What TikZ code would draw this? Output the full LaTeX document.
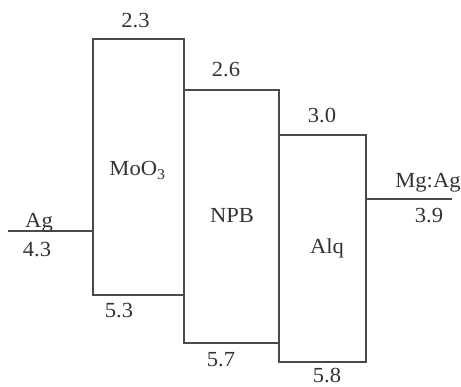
\documentclass[tikz,border=0pt]{standalone}
\usepackage{fontspec}
\setmainfont{Liberation Serif}[FakeStretch=1.05]
\begin{document}
\begin{tikzpicture}[x=1pt,y=-1pt,
  level/.style={draw=linegray,line width=1.5pt},
  box/.style={draw=linegray,line width=1.5pt,rectangle,inner sep=0pt,fill=none},
  lab/.style={anchor=base,inner sep=0pt,text=textgray,font=\fontsize{21.5}{25}\selectfont}]
\definecolor{linegray}{HTML}{4A4A4A}
\definecolor{textgray}{HTML}{333333}
\useasboundingbox (0,0) rectangle (461,387);
% layer boxes
\node[box,minimum width=91pt,minimum height=256pt] (moo) at (138.5,167) {};
\node[box,minimum width=95pt,minimum height=253pt] (npb) at (231.5,216.5) {};
\node[box,minimum width=87pt,minimum height=227pt] (alq) at (322.5,248.5) {};
% electrodes
\coordinate (agl) at (8,231);
\coordinate (mgr) at (452,199);
\draw[level] (agl) -- (agl -| moo.west);
\draw[level] (mgr -| alq.east) -- (mgr);
% labels
\node[lab] (l23) at (135.5,28) {2.3};
\node[lab] (l26) at (226,77) {2.6};
\node[lab] (l30) at (322,123) {3.0};
\node[lab] (lmoo) at (137.5,176) {MoO\textsubscript{3}};
\node[lab] (lnpb) at (232,223) {NPB};
\node[lab] (lalq) at (327,254) {Alq};
\node[lab] (lag) at (39,228) {Ag};
\node[lab] (l43) at (37,257) {4.3};
\node[lab] (l53) at (119,318) {5.3};
\node[lab] (l57) at (221,367) {5.7};
\node[lab] (l58) at (327,383) {5.8};
\node[lab] (lmg) at (428,188) {Mg:Ag};
\node[lab] (l39) at (429,223) {3.9};
\end{tikzpicture}
\end{document}
